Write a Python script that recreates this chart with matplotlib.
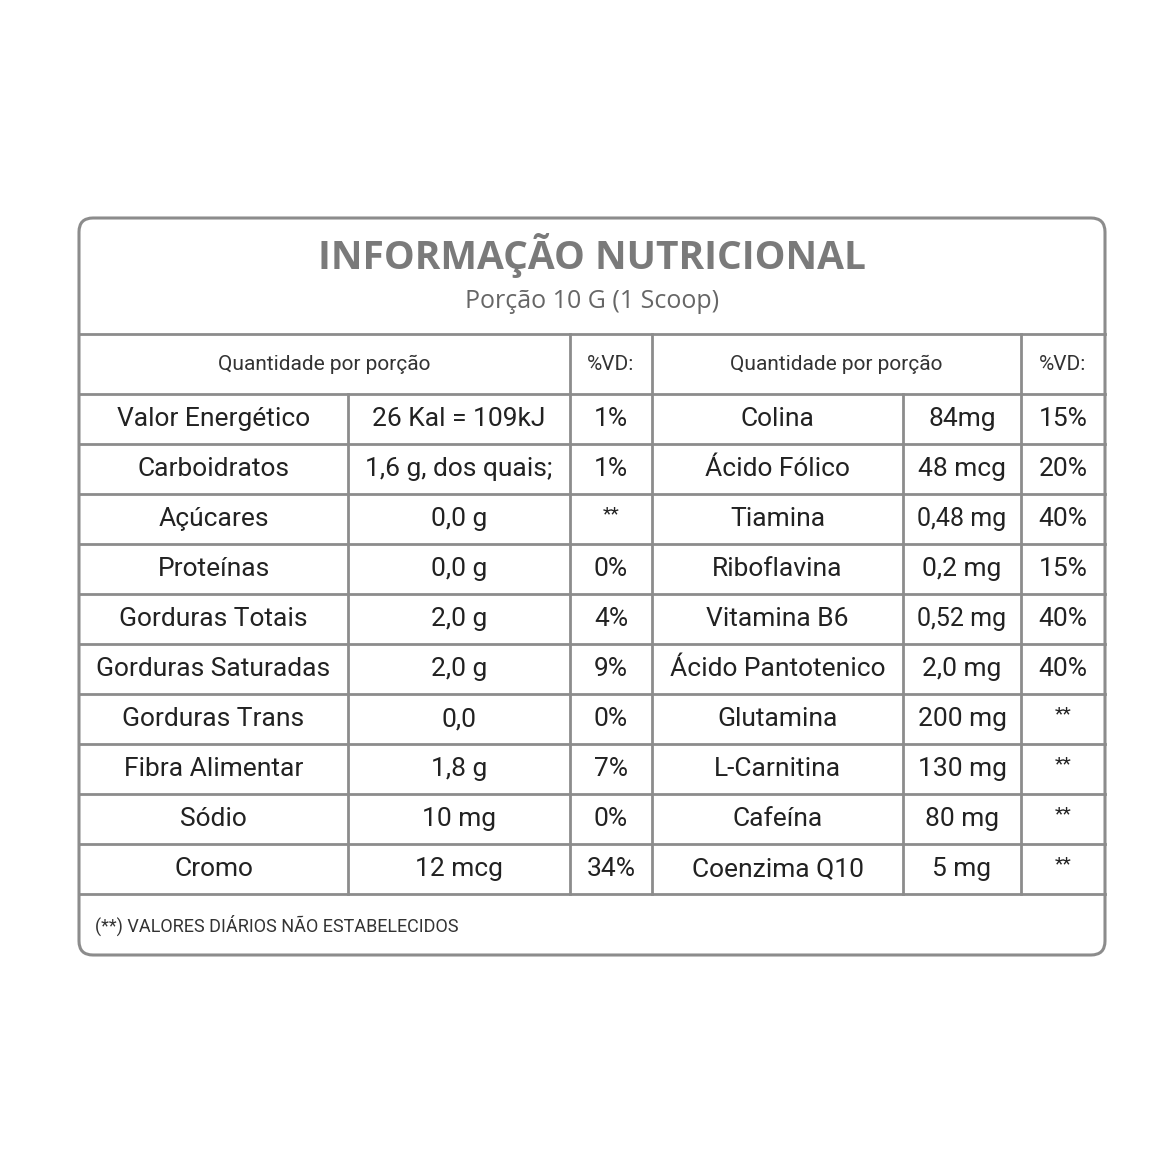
import matplotlib.pyplot as plt
from matplotlib.patches import FancyBboxPatch

title = "INFORMAÇÃO NUTRICIONAL"
subtitle = "Porção 10 G (1 Scoop)"
header = ["Quantidade por porção", "%VD:", "Quantidade por porção", "%VD:"]
left_names = ["Valor Energético", "Carboidratos", "Açúcares", "Proteínas", "Gorduras Totais",
              "Gorduras Saturadas", "Gorduras Trans", "Fibra Alimentar", "Sódio", "Cromo"]
left_amounts = ["26 Kal = 109kJ", "1,6 g, dos quais;", "0,0 g", "0,0 g", "2,0 g",
                "2,0 g", "0,0", "1,8 g", "10 mg", "12 mcg"]
left_vd = ["1%", "1%", "**", "0%", "4%", "9%", "0%", "7%", "0%", "34%"]
right_names = ["Colina", "Ácido Fólico", "Tiamina", "Riboflavina", "Vitamina B6",
               "Ácido Pantotenico", "Glutamina", "L-Carnitina", "Cafeína", "Coenzima Q10"]
right_amounts = ["84mg", "48 mcg", "0,48 mg", "0,2 mg", "0,52 mg",
                 "2,0 mg", "200 mg", "130 mg", "80 mg", "5 mg"]
right_vd = ["15%", "20%", "40%", "15%", "40%", "40%", "**", "**", "**", "**"]
footer = "(**) VALORES DIÁRIOS NÃO ESTABELECIDOS"

FONT = ['Roboto', 'DejaVu Sans']
LINE = '#8c8c8c'

fig = plt.figure(figsize=(11.76, 11.76), dpi=100)
ax = fig.add_axes([0, 0, 1, 1])
ax.set_xlim(0, 1176)
ax.set_ylim(1176, 0)
ax.axis('off')

x0, x1, y0, y1 = 79, 1105, 218, 955
cols = [79, 348, 570, 652, 903, 1021, 1105]
box = FancyBboxPatch((x0, y0), x1 - x0, y1 - y0, boxstyle="round,pad=0,rounding_size=14",
                     fc='white', ec=LINE, lw=2.2)
ax.add_patch(box)

ax.text(592, 256, title, ha='center', va='center', fontsize=28, fontweight='bold',
        color='#7a7a7a', family=['Open Sans', 'DejaVu Sans'])
ax.text(592, 302, subtitle, ha='center', va='center', fontsize=18,
        color='#666666', family=['Open Sans', 'DejaVu Sans'])

hy0, hy1 = 334, 394
row_h = 50
rows_y = [hy1 + i * row_h for i in range(11)]
for y in [hy0, hy1] + rows_y[1:]:
    ax.plot([x0, x1], [y, y], color=LINE, lw=2)
for x in [570, 652, 1021]:
    ax.plot([x, x], [hy0, rows_y[-1]], color=LINE, lw=2)
for x in [348, 903]:
    ax.plot([x, x], [hy1, rows_y[-1]], color=LINE, lw=2)

hc = (hy0 + hy1) / 2
for txt, (a, b) in zip(header, [(79, 570), (570, 652), (652, 1021), (1021, 1105)]):
    ax.text((a + b) / 2, hc, txt, ha='center', va='center', fontsize=15,
            color='#333333', family=FONT)

data = [left_names, left_amounts, left_vd, right_names, right_amounts, right_vd]
for i in range(10):
    yc = rows_y[i] + row_h / 2
    for c, col in enumerate(data):
        xc = (cols[c] + cols[c + 1]) / 2
        val = col[i]
        fs = 14 if val == '**' else 19
        if c == 4 and len(val) > 6:
            fs = 18
        ax.text(xc, yc - (5 if val == '**' else 0), val, ha='center', va='center',
                fontsize=fs, color='#222222', family=FONT)

ax.text(95, 925, footer, ha='left', va='center', fontsize=13, color='#333333', family=FONT)

fig.savefig('out.png', dpi=100, facecolor='white')
